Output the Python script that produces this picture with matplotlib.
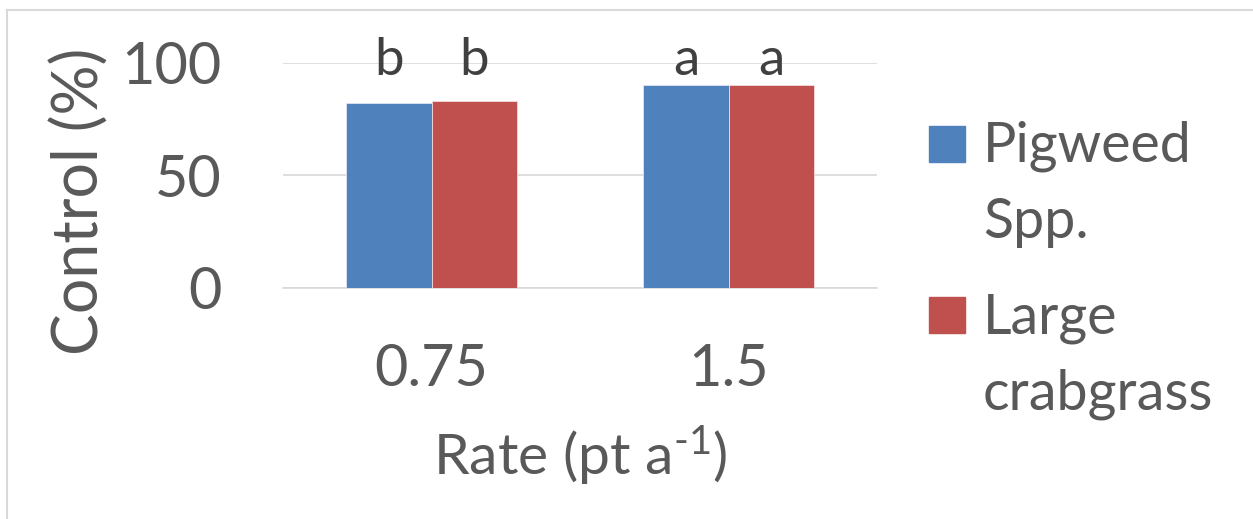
import matplotlib
matplotlib.use('Agg')
import matplotlib.pyplot as plt
import numpy as np
from matplotlib.lines import Line2D
from matplotlib.patches import Rectangle

# data
rates = ['0.75', '1.5']
series = ['Pigweed\nSpp.', 'Large\ncrabgrass']
pigweed = [82.2, 90.1]
crabgrass = [83.1, 90.1]
letters_pigweed = ['b', 'a']
letters_crabgrass = ['b', 'a']

blue = '#4F81BD'
red = '#C0504D'
grid_gray = '#D9D9D9'
text_gray = '#595959'

plt.rcParams['font.family'] = ['Lato', 'DejaVu Sans']
plt.rcParams['mathtext.fontset'] = 'custom'
plt.rcParams['mathtext.rm'] = 'Lato'
plt.rcParams['mathtext.default'] = 'regular'

W, H = 1253, 519
fig = plt.figure(figsize=(W / 100, H / 100), dpi=100)
ax = fig.add_axes([283 / W, 1 - 287.7 / H, 594 / W, 225.2 / H])

x = np.arange(len(rates))
w = 0.287
ax.bar(x - w / 2, pigweed, w, color=blue, edgecolor='#DCE6F2', linewidth=0.6, zorder=3)
ax.bar(x + w / 2, crabgrass, w, color=red, edgecolor='#F2DCDB', linewidth=0.6, zorder=3)

# significance letters sit at a common height above the bars
for i in range(len(rates)):
    ax.text(x[i] - w / 2, 94.5, letters_pigweed[i], ha='center', va='baseline',
            fontsize=38, color='#404040')
    ax.text(x[i] + w / 2, 94.5, letters_crabgrass[i], ha='center', va='baseline',
            fontsize=38, color='#404040')

ax.set_xlim(-0.5, 1.5)
ax.set_ylim(0, 100)
ax.set_yticks([0, 50, 100])
ax.set_xticks(x)
ax.set_xticklabels(rates)
ax.yaxis.grid(True, color=grid_gray, linewidth=1.2, zorder=0)
ax.set_axisbelow(True)
for s in ['top', 'right', 'left']:
    ax.spines[s].set_visible(False)
ax.spines['bottom'].set_color(grid_gray)
ax.spines['bottom'].set_linewidth(1.2)
ax.tick_params(axis='both', length=0, labelsize=41.5, labelcolor=text_gray)
ax.tick_params(axis='y', pad=44)
ax.tick_params(axis='x', pad=40)

ax.set_xlabel(r'Rate (pt a$^{\text{-}1}$)', fontsize=41, color=text_gray, va='baseline')
ax.xaxis.set_label_coords(0.5, (287.7 - 475) / 225.2)
ax.set_ylabel('Control (%)', fontsize=45, color=text_gray, va='center',
              ha='center', rotation_mode='default')
ax.yaxis.set_label_coords((80 - 283) / 594, (287.7 - 201) / 225.2)

# legend drawn by hand so the swatch lines up with the first text line
for k, (name, col) in enumerate(zip(series, [blue, red])):
    top = [126, 297][k]
    fig.patches.append(Rectangle((929 / W, 1 - (top + 36) / H), 36 / W, 36 / H,
                                 transform=fig.transFigure, color=col))
    for j, line in enumerate(name.split('\n')):
        base = top + 36 + j * 76
        fig.text(983 / W, 1 - base / H, line, fontsize=40, color=text_gray,
                 ha='left', va='baseline')

# chart area border (only top and left visible)
fig.add_artist(Line2D([7 / W, 7 / W], [0, 1 - 10 / H], transform=fig.transFigure,
                      color=grid_gray, linewidth=1.5))
fig.add_artist(Line2D([7 / W, 1], [1 - 10 / H, 1 - 10 / H], transform=fig.transFigure,
                      color=grid_gray, linewidth=1.5))

fig.savefig('out.png', dpi=100)
